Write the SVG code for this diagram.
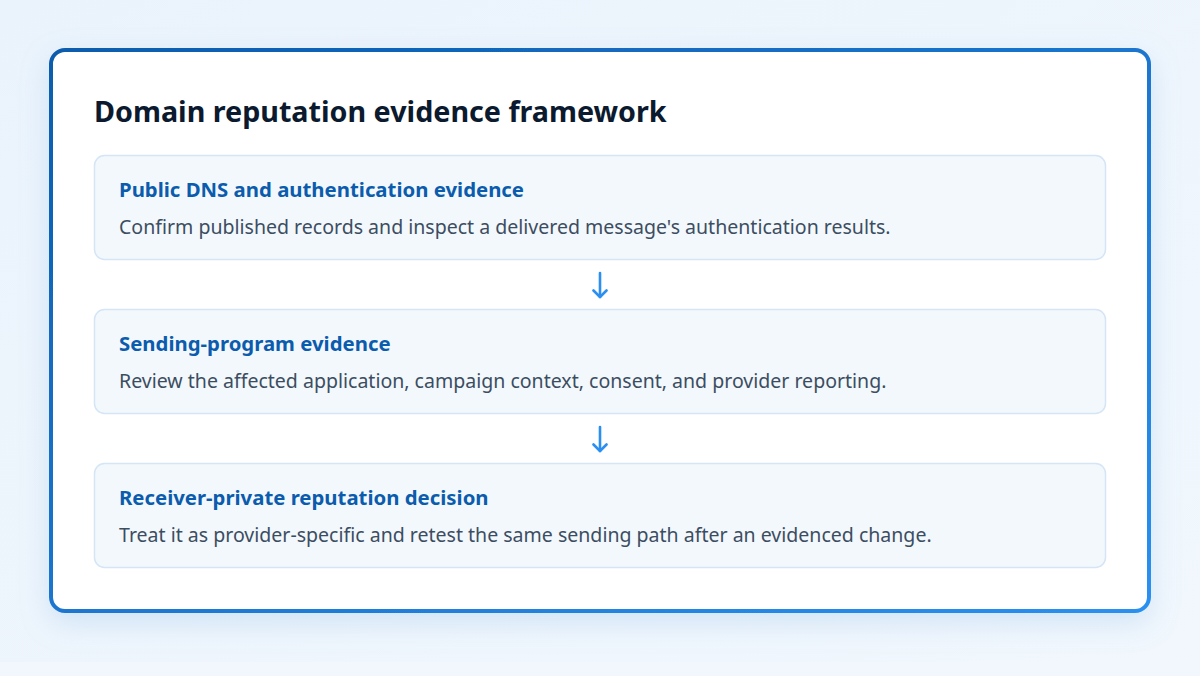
<svg xmlns="http://www.w3.org/2000/svg" width="1200" height="676" viewBox="0 0 1200 676">
  <defs>
    <linearGradient id="bg" x1="0" y1="0" x2="1" y2="1">
      <stop offset="0" stop-color="#eaf3fc"/>
      <stop offset="1" stop-color="#f1f7fd"/>
    </linearGradient>
    <linearGradient id="frame" x1="0" y1="0" x2="1" y2="1">
      <stop offset="0" stop-color="#0b5cad"/>
      <stop offset="1" stop-color="#2a90f0"/>
    </linearGradient>
    <filter id="shadow" x="-10%" y="-10%" width="120%" height="130%">
      <feDropShadow dx="0" dy="10" stdDeviation="14" flood-color="#8bbbe8" flood-opacity="0.3"/>
    </filter>
    <marker id="arrow" viewBox="0 0 16 16" refX="13" refY="8" markerWidth="16" markerHeight="16" markerUnits="userSpaceOnUse" orient="auto">
      <path d="M6.5,1.5 L13,8 L6.5,14.5" fill="none" stroke="#2a8ff0" stroke-width="2.6" stroke-linecap="round" stroke-linejoin="round"/>
    </marker>
    <style>
      .title { font-family: "Noto Sans", "Open Sans", sans-serif; font-weight: 700; font-size: 28.7px; fill: #0b1a2e; }
      .node rect { fill: #f3f8fd; stroke: #d5e5f5; stroke-width: 1.5; }
      .head { font-family: "Noto Sans", "Open Sans", sans-serif; font-weight: 700; font-size: 20.35px; fill: #0b5cad; }
      .desc { font-family: "Noto Sans", "Open Sans", sans-serif; font-size: 19.55px; fill: #3c4d61; }
      .conn line { stroke: #2a8ff0; stroke-width: 2.6; stroke-linecap: round; }
    </style>
  </defs>
  <rect x="0" y="0" width="1200" height="676" fill="url(#bg)"/>
  <rect x="0" y="662" width="1200" height="14" fill="#f2f7fd"/>
  <rect x="51" y="50" width="1098" height="561" rx="14" ry="14" fill="#ffffff" stroke="url(#frame)" stroke-width="4" filter="url(#shadow)"/>
  <text class="title" x="94" y="122">Domain reputation evidence framework</text>

  <g id="node1" class="node">
    <rect x="94.5" y="155.5" width="1011" height="104" rx="10" ry="10"/>
    <text class="head" x="119" y="197">Public DNS and authentication evidence</text>
    <text class="desc" x="119" y="233.5">Confirm published records and inspect a delivered message's authentication results.</text>
  </g>
  <g id="node2" class="node">
    <rect x="94.5" y="309.5" width="1011" height="104" rx="10" ry="10"/>
    <text class="head" x="119" y="351">Sending-program evidence</text>
    <text class="desc" x="119" y="387.5">Review the affected application, campaign context, consent, and provider reporting.</text>
  </g>
  <g id="node3" class="node">
    <rect x="94.5" y="463.5" width="1011" height="104" rx="10" ry="10"/>
    <text class="head" x="119" y="505">Receiver-private reputation decision</text>
    <text class="desc" x="119" y="541.5">Treat it as provider-specific and retest the same sending path after an evidenced change.</text>
  </g>

  <g id="connectors" class="conn">
    <line x1="600" y1="273" x2="600" y2="297" marker-end="url(#arrow)"/>
    <line x1="600" y1="427" x2="600" y2="451" marker-end="url(#arrow)"/>
  </g>
</svg>
